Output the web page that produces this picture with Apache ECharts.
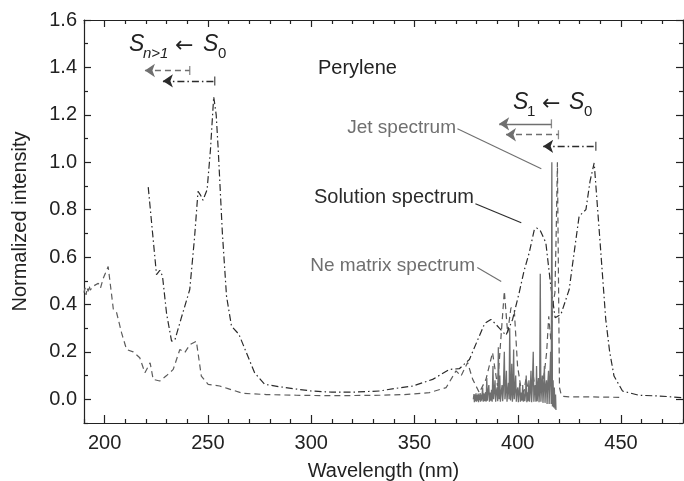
<!DOCTYPE html>
<html><head><meta charset="utf-8">
<script src="https://cdn.jsdelivr.net/npm/echarts@6/dist/echarts.min.js"></script>
<style>html,body{margin:0;padding:0;background:#fff}#c{width:684px;height:481px}</style>
</head><body><div id="c"></div>
<script>
// ---- data (wavelength nm, normalized intensity) ----
const solutionSpectrum = [[221.1,0.895],[223,0.72],[225.1,0.526],[226.7,0.544],[228,0.52],[230,0.36],[232.4,0.245],[234,0.25],[237,0.34],[241.2,0.463],[243.5,0.68],[245.2,0.877],[246.5,0.86],[247.6,0.84],[249.6,0.884],[251.2,1.05],[252.8,1.276],[254,1.2],[255,1.05],[257,0.7],[259,0.435],[261.4,0.309],[265,0.274],[268.6,0.197],[272.6,0.112],[277.5,0.063],[284.7,0.053],[291.2,0.045],[300,0.035],[310,0.03],[320,0.03],[333.1,0.035],[340,0.045],[349.2,0.056],[358.8,0.084],[366.9,0.126],[371.7,0.129],[376.6,0.168],[381.4,0.267],[384,0.32],[387,0.337],[389,0.32],[391.1,0.30],[394.3,0.27],[397.5,0.337],[400.7,0.45],[403,0.54],[405.6,0.62],[408,0.715],[409.1,0.723],[411,0.71],[413.6,0.66],[416,0.477],[418.1,0.344],[420.9,0.358],[424.9,0.463],[427,0.6],[429.7,0.772],[433,0.80],[435,0.92],[437,0.997],[439.4,0.716],[442.6,0.337],[444.5,0.2],[446.6,0.098],[450.7,0.035],[458.7,0.017],[468.4,0.014],[479.7,0.007]];
const neMatrixSpectrum = [[190,0.45],[190.5,0.47],[191,0.44],[191.5,0.47],[192,0.455],[192.5,0.48],[193,0.46],[194.5,0.477],[196.9,0.49],[198,0.47],[199.3,0.51],[201.7,0.56],[204.2,0.38],[205.8,0.365],[208.2,0.28],[210.6,0.21],[213.8,0.2],[217,0.175],[219.5,0.112],[222,0.154],[223.5,0.084],[226.7,0.077],[230,0.1],[233.2,0.126],[236.4,0.21],[238.8,0.197],[241.2,0.23],[244.4,0.245],[246.8,0.098],[250.1,0.063],[255.7,0.056],[259.7,0.045],[267,0.025],[278.3,0.02],[292.8,0.017],[310,0.015],[333,0.017],[345,0.02],[357.2,0.028],[365.3,0.049],[370.1,0.12],[372.5,0.098],[375.7,0.155],[378.2,0.084],[381.4,0.028],[384.6,0.084],[387.8,0.197],[390.2,0.056],[391.8,0.253],[393.5,0.456],[395.1,0.28],[396.7,0.386],[398.3,0.379],[399.9,0.14],[401.5,0.05],[403,0.03],[404,0.09],[405,0.04],[406.5,0.03],[407.5,0.1],[408.5,0.04],[410,0.08],[411,0.03],[412,0.06],[413,0.12],[414,0.2],[415,0.35],[416,0.25],[417,0.4],[418,0.45],[418.6,0.7],[419.2,1.0],[419.6,1.0],[420.2,0.05],[421,0.02],[422,0.012],[425,0.01],[435,0.01],[451,0.008]];
const jetSpectrum = [[378.5,0.0],[378.8,0.022],[379,-0.012],[379.3,0.02],[379.5,-0.008],[379.8,0.025],[380,-0.01],[380.3,0.018],[380.5,-0.006],[380.8,0.024],[381,-0.012],[381.3,0.02],[381.5,-0.004],[381.8,0.026],[382,-0.01],[382.3,0.02],[382.5,-0.006],[383,0.05],[383.3,-0.01],[383.6,0.025],[384,-0.008],[384.4,0.03],[384.7,-0.01],[385,0.09],[385.3,-0.006],[385.6,0.03],[386,0.06],[386.3,-0.01],[386.6,0.028],[387,-0.006],[387.3,0.04],[387.6,-0.01],[388,0.14],[388.3,0.0],[388.6,0.03],[389,0.08],[389.3,-0.01],[389.6,0.03],[390,0.05],[390.3,-0.008],[390.6,0.22],[391,0.0],[391.3,0.1],[391.6,-0.01],[392,0.03],[392.4,0.06],[392.7,-0.008],[393,0.035],[393.5,0.2],[393.8,0.0],[394.1,0.03],[394.5,0.12],[394.8,-0.01],[395.1,0.03],[395.5,0.07],[395.8,0.0],[396.1,0.3],[396.5,-0.005],[396.8,0.03],[397.1,0.15],[397.4,-0.01],[397.7,0.03],[398,0.21],[398.3,0.0],[398.6,0.035],[399,0.1],[399.3,-0.01],[399.6,0.03],[400,0.05],[400.3,-0.012],[400.6,0.025],[401,0.07],[401.3,-0.01],[401.6,0.028],[402,-0.006],[402.4,0.06],[402.7,-0.01],[403,0.03],[403.4,-0.008],[403.8,0.025],[404.1,0.1],[404.4,-0.012],[404.7,0.03],[405,-0.008],[405.4,0.08],[405.7,-0.01],[406,0.03],[406.4,0.12],[406.7,-0.012],[407,0.04],[407.5,0.2],[407.8,-0.01],[408.1,0.03],[408.5,0.06],[408.8,-0.01],[409.1,0.14],[409.4,-0.008],[409.7,0.035],[410,0.09],[410.3,-0.012],[410.6,0.04],[410.9,0.53],[411.2,-0.01],[411.5,0.04],[411.9,0.1],[412.2,-0.015],[412.5,0.04],[412.9,0.14],[413.2,-0.015],[413.5,0.05],[413.9,0.08],[414.2,-0.02],[414.5,0.06],[414.9,0.12],[415.2,-0.02],[415.5,0.07],[415.9,0.2],[416.2,-0.02],[416.5,1.0],[416.8,-0.03],[417.1,0.08],[417.4,-0.035],[417.7,0.05],[418,-0.04],[418.3,0.02],[418.5,-0.045]];
// transition arrows: [headNm, barNm, level]
const arrowUVNe = [219.5, 241.2, 1.387];
const arrowUVSol = [228.2, 253.3, 1.343];
const arrowS1Jet = [391.0, 416.3, 1.162];
const arrowS1Ne = [394.3, 419.7, 1.116];
const arrowS1Sol = [412.3, 437.8, 1.067];
// leader lines [[nm,v],[nm,v]]
const leaderJet = [[370.8,1.141],[411.4,0.973]];
const leaderSol = [[379.5,0.825],[401.7,0.745]];
const leaderNe = [[380.4,0.556],[392.0,0.497]];
// ticks
const xMajor = [200,250,300,350,400,450];
const xMinor = [190,210,220,230,240,260,270,280,290,310,320,330,340,360,370,380,390,410,420,430,440,460,470,480];
const yMajor = [0,0.2,0.4,0.6,0.8,1.0,1.2,1.4,1.6];
const yMinor = [-0.1,0.1,0.3,0.5,0.7,0.9,1.1,1.3,1.5];

const FONT = '"Liberation Sans", Arial, Helvetica, sans-serif';
const DARK = '#2b2b2b', GRAY = '#6f6f6f', AX = '#222';
const DASHDOT = [7,3,1.5,3], DASHED = [6,4];

function xAx(pos, ticks, len, labels, line) {
  return {type:'value', min:190, max:480, position:pos, gridIndex:0,
    axisLine:{show:line, onZero:false, lineStyle:{color:AX, width:1.2}},
    axisTick:{show:true, inside:true, length:len, customValues:ticks, lineStyle:{color:AX,width:1.2}},
    axisLabel:{show:labels, customValues:ticks, fontSize:20, color:AX, fontFamily:FONT, margin:10},
    splitLine:{show:false},
    name: labels ? 'Wavelength (nm)' : '', nameLocation:'middle', nameGap:38,
    nameTextStyle:{fontSize:20, color:AX, fontFamily:FONT}};
}
function yAx(pos, ticks, len, labels, line) {
  return {type:'value', min:-0.1, max:1.6, position:pos, gridIndex:0,
    axisLine:{show:line, onZero:false, lineStyle:{color:AX, width:1.2}},
    axisTick:{show:true, inside:true, length:len, customValues:ticks, lineStyle:{color:AX,width:1.2}},
    axisLabel:{show:labels, customValues:ticks, fontSize:20, color:AX, fontFamily:FONT, margin:7,
      formatter:v=>v.toFixed(1)},
    splitLine:{show:false},
    name: labels ? 'Normalized intensity' : '', nameLocation:'middle', nameGap:54,
    nameTextStyle:{fontSize:20, color:AX, fontFamily:FONT}};
}

function arrowSeries(a, color, type) {
  return [{type:'lines', coordinateSystem:'cartesian2d', xAxisIndex:0, yAxisIndex:0, silent:true,
      symbol:['arrow','none'], symbolSize:[10,11],
      lineStyle:{color:color, width:1.3, type:type, opacity:1},
      data:[{coords:[[a[0],a[2]],[a[1],a[2]]]}]},
    {type:'scatter', xAxisIndex:0, yAxisIndex:0, silent:true, symbol:'rect', symbolSize:[1.3,9],
      itemStyle:{color:color}, data:[[a[1],a[2]]]}];
}
function leader(l, color) {
  return {type:'lines', coordinateSystem:'cartesian2d', xAxisIndex:0, yAxisIndex:0, silent:true,
    symbol:['none','none'], lineStyle:{color:color, width:1.1, opacity:1}, data:[{coords:l}]};
}

const chart = echarts.init(document.getElementById('c'), null, {renderer:'canvas'});
const T = (x,y,text,size,color,style,align,fam) => ({type:'text', x:x, y:y, silent:true,
  style:{text:text, fill:color, font:(style||'normal')+' '+size+'px '+(fam||FONT), textAlign:align||'left', textVerticalAlign:'middle'}});
const ARF = '"DejaVu Sans", sans-serif';
chart.setOption({
  animation:false,
  grid:{left:84, right:1, top:20, bottom:58, containLabel:false, outerBoundsMode:'none'},
  xAxis:[xAx('bottom', xMajor, 8, true, true), xAx('bottom', xMinor, 4, false, false),
         xAx('top', xMajor, 7, false, true), xAx('top', xMinor, 4, false, false)],
  yAxis:[yAx('left', yMajor, 7, true, true), yAx('left', yMinor, 4, false, false),
         yAx('right', yMajor, 7, false, true), yAx('right', yMinor, 4, false, false)],
  series:[
    {type:'line', name:'Ne matrix', data:neMatrixSpectrum, xAxisIndex:0, yAxisIndex:0, showSymbol:false, clip:true,
     lineStyle:{color:'#5c5c5c', width:1.2, type:DASHED}},
    {type:'line', name:'Solution', data:solutionSpectrum, xAxisIndex:0, yAxisIndex:0, showSymbol:false,
     lineStyle:{color:DARK, width:1.2, type:DASHDOT}},
    {type:'line', name:'Jet', data:jetSpectrum, xAxisIndex:0, yAxisIndex:0, showSymbol:false,
     lineStyle:{color:GRAY, width:1.3}},
    ...arrowSeries(arrowUVNe, GRAY, DASHED),
    ...arrowSeries(arrowUVSol, DARK, DASHDOT),
    ...arrowSeries(arrowS1Jet, GRAY, 'solid'),
    ...arrowSeries(arrowS1Ne, GRAY, DASHED),
    ...arrowSeries(arrowS1Sol, DARK, DASHDOT),
    leader(leaderJet, GRAY), leader(leaderSol, DARK), leader(leaderNe, GRAY)
  ],
  graphic:[
    T(318,68,'Perylene',20,'#222'),
    T(456,128,'Jet spectrum',19,GRAY,null,'right'),
    T(474,197,'Solution spectrum',20,DARK,null,'right'),
    T(475,266,'Ne matrix spectrum',19,GRAY,null,'right'),
    T(129,45,'S',23,'#222','italic'),
    T(143,54,'n>1',15,'#222','italic'),
    T(175,46,'←',22,'#222',null,'left',ARF),
    T(203,45,'S',23,'#222','italic'),
    T(218,54,'0',15,'#222'),
    T(513,103,'S',23,'#222','italic'),
    T(527,112,'1',15,'#222'),
    T(542,104,'←',22,'#222',null,'left',ARF),
    T(569,103,'S',23,'#222','italic'),
    T(584,112,'0',15,'#222')
  ]
});
</script></body></html>
